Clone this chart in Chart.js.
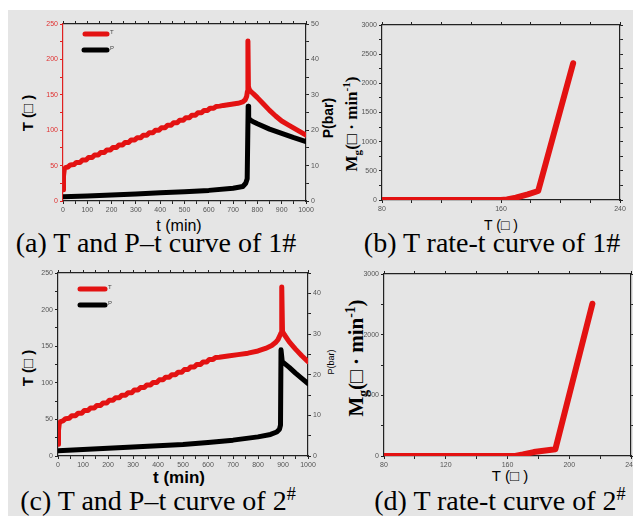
<!DOCTYPE html>
<html><head><meta charset="utf-8">
<script src="https://cdn.jsdelivr.net/npm/chart.js@4.4.0/dist/chart.umd.min.js"></script>
<style>
html,body{margin:0;padding:0;background:#fff;overflow:hidden;width:633px;height:516px;position:relative;}
#bg{position:absolute;left:8px;top:10px;width:625px;height:506px;background:#e5e5e5;}
canvas{position:absolute;}
.t{position:absolute;white-space:nowrap;color:#000;line-height:1;}
.cap{font-family:"Liberation Serif","Times New Roman",serif;font-size:28px;transform:translate(-50%,-50%);}
.ax{font-family:"Liberation Sans",Arial,sans-serif;}
.ser{font-family:"Liberation Serif","Times New Roman",serif;font-weight:bold;}
.rot{transform:translate(-50%,-50%) rotate(-90deg);}
.ctr{transform:translate(-50%,-50%);}
sup,sub{line-height:0;font-size:65%;}
</style></head><body>
<div id="bg"></div>

<div class="t ax rot" style="left:27px;top:113px;font-size:15px;font-weight:bold">T (□ )</div>
<div class="t ax ctr" style="left:179px;top:226px;font-size:16px">t (min)</div>
<div class="t ax rot" style="left:328px;top:118px;font-size:14px;font-weight:bold">P(bar)</div>
<div class="t cap" style="left:156px;top:243px">(a) T and P–t curve of 1#</div>

<div class="t ser rot" style="left:351px;top:124px;font-size:17px">M<sub>g</sub>(□ · min<sup>-1</sup>)</div>
<div class="t ax ctr" style="left:501px;top:225px;font-size:14px">T (□ )</div>
<div class="t cap" style="left:492px;top:243px">(b) T rate-t curve of 1#</div>

<div class="t ax rot" style="left:27px;top:368px;font-size:15px;font-weight:bold">T (□ )</div>
<div class="t ax ctr" style="left:179px;top:477px;font-size:17px;font-weight:bold">t (min)</div>
<div class="t ax rot" style="left:331px;top:362px;font-size:9px">P(bar)</div>
<div class="t cap" style="left:158px;top:501px">(c) T and P–t curve of 2<sup>#</sup></div>

<div class="t ser rot" style="left:356px;top:358px;font-size:21px">M<sub>g</sub>(□ · min<sup>-1</sup>)</div>
<div class="t ax ctr" style="left:510px;top:475px;font-size:15px">T (□ )</div>
<div class="t cap" style="left:500px;top:501px">(d) T rate-t curve of 2<sup>#</sup></div>

<canvas id="ca" width="303" height="205" style="left:28px;top:16px"></canvas>
<canvas id="cb" width="283" height="203" style="left:347px;top:17px"></canvas>
<canvas id="cc" width="310" height="211" style="left:23px;top:265px"></canvas>
<canvas id="cd" width="292" height="210" style="left:349px;top:266px"></canvas>

<script>
// ---------- (a) sample 1#: T and P vs t ----------
const a_T_time = [0,2,5,10,20,30,45,55,70,80,95,105,120,130,145,155,170,180,195,205,220,230,245,255,270,280,295,305,320,330,345,355,370,380,395,405,420,430,445,455,470,480,495,505,520,530,545,555,570,580,595,605,620,630,645,660,680,700,720,740,750,756,759,761,763,766,772,785,800,825,850,875,900,925,950,975,1000];
const a_T_vals = [16,35,44,47,48,51,51.5,54.5,54.5,58,58,61.5,61.5,65,65,68.5,68.5,72,72,75.5,75.5,79,79,82.5,82.5,86,86,89.5,89.5,93,93,96.5,96.5,100,100,103.5,103.5,107,107,110.5,110.5,114,114,117.5,117.5,121,121,124.5,124.5,128,128,131,131,133.5,134,135,136,137,138,140,143,148,155,226,162,158,155,151,146,137,128,120,113,108,103,98,93];
const a_P_time = [0,100,200,300,400,500,600,700,740,752,758,762,764,770,785,800,850,900,950,1000];
const a_P_vals = [1.2,1.4,1.7,2.0,2.3,2.6,3.0,3.6,4.1,5.0,6.3,26.8,23.5,22.9,22.3,21.8,20.3,19.1,17.9,16.8];

// ---------- (b) sample 1#: Mg vs T ----------
const b_T = [80,100,120,140,160,164,170,178,185,208.5];
const b_M = [0,0,0,0,0,10,40,97,154,2345];

// ---------- (c) sample 2#: T and P vs t ----------
const c_T_time = [0,2,5,10,20,30,45,55,70,80,95,105,120,130,145,155,170,180,195,205,220,230,245,255,270,280,295,305,320,330,345,355,370,380,395,405,420,430,445,455,470,480,495,505,520,530,545,555,570,580,595,605,620,630,645,680,720,760,800,830,855,870,880,888,892,895,898,905,925,950,975,1000];
const c_T_vals = [16,35,44,47,48,51,51.5,55,55,58.5,58.5,62,62,65.5,65.5,69,69,72.5,72.5,76,76,79.5,79.5,83,83,86.5,86.5,90,90,93.5,93.5,97,97,100.5,100.5,104,104,107.5,107.5,111,111,114.5,114.5,118,118,121.5,121.5,125,125,128.5,128.5,132,132,134.5,135,136.5,138.5,140.5,143.5,147,151,155,159,165,168,231,170,166,156,146,137,129];
const c_P_time = [0,100,200,300,400,500,600,700,800,850,875,886,890,892,897,925,950,975,1000];
const c_P_vals = [1.3,1.6,1.9,2.2,2.5,2.8,3.3,3.9,4.7,5.3,5.9,6.6,7.6,26.1,23.2,21.8,20.4,19.1,17.8];

// ---------- (d) sample 2#: Mg vs T ----------
const d_T = [80,100,120,140,160,165,170,177,191,215];
const d_M = [0,0,0,0,0,0,25,65,110,2510];

const RED = '#e31212', BLACK = '#000000';
const pts = (xs, ys) => xs.map((x, i) => ({x, y: ys[i]}));

function axis(o) {
  const vertical = (o.pos === 'left' || o.pos === 'right');
  return {
    type: 'linear', position: o.pos, min: o.min, max: o.max,
    afterFit: s => { if (vertical) s.width = o.size; else s.height = o.size; },
    grid: {drawOnChartArea: false, drawTicks: true, tickLength: 3, color: o.color || '#222', tickColor: o.color || '#222', tickWidth: 1},
    border: {display: true, color: o.color || '#222', width: 1.2},
    ticks: {
      display: !!o.labels, stepSize: o.step, autoSkip: false, maxRotation: 0, padding: 2,
      color: o.labelColor || '#555', font: {size: 7, family: 'Arial'},
      callback: v => (Math.abs(v / o.every - Math.round(v / o.every)) < 1e-6 ? v : '')
    }
  };
}

const inLegend = {
  id: 'inLegend',
  afterDatasetsDraw(chart, args, opts) {
    if (!opts || !opts.items) return;
    const {ctx, chartArea: a} = chart;
    chart.data.datasets.forEach((ds, i) => {
      const it = opts.items[i];
      if (!it) return;
      ctx.save();
      ctx.strokeStyle = ds.borderColor; ctx.lineWidth = ds.borderWidth; ctx.lineCap = 'round';
      ctx.beginPath(); ctx.moveTo(a.left + it.x0, a.top + it.y); ctx.lineTo(a.left + it.x1, a.top + it.y); ctx.stroke();
      ctx.fillStyle = '#444'; ctx.font = '6px Arial'; ctx.textBaseline = 'middle';
      ctx.fillText(ds.label, a.left + it.x1 + 3, a.top + it.y - 2);
      ctx.restore();
    });
  }
};

function lineDs(label, data, color, yAxisID, width) {
  return {label, data, borderColor: color, backgroundColor: color, borderWidth: width || 5, pointRadius: 0,
    tension: 0, fill: false, borderJoinStyle: 'round', borderCapStyle: 'round', yAxisID: yAxisID || 'y'};
}

const common = {
  responsive: false, animation: false, events: [],
  layout: {padding: 0},
  plugins: {legend: {display: false}, tooltip: {enabled: false}, title: {display: false}}
};

// (a)
new Chart(document.getElementById('ca'), {
  type: 'line',
  data: {datasets: [lineDs('T', pts(a_T_time, a_T_vals), RED, 'y'), lineDs('P', pts(a_P_time, a_P_vals), BLACK, 'y2')]},
  options: Object.assign({}, common, {
    plugins: Object.assign({}, common.plugins, {inLegend: {items: [{x0: 22, x1: 44, y: 10}, {x0: 21, x1: 44, y: 26}]}}),
    scales: {
      x: axis({pos: 'bottom', min: 0, max: 1000, step: 50, every: 100, labels: true, size: 20}),
      x2: axis({pos: 'top', min: 0, max: 1000, step: 50, every: 100, labels: false, size: 8}),
      y: axis({pos: 'left', min: 0, max: 250, step: 25, every: 50, labels: true, size: 35, color: '#e02020', labelColor: '#e03030'}),
      y2: axis({pos: 'right', min: 0, max: 50, step: 5, every: 10, labels: true, size: 25})
    }
  }),
  plugins: [inLegend]
});

// (b)
new Chart(document.getElementById('cb'), {
  type: 'line',
  data: {datasets: [lineDs('Mg', pts(b_T, b_M), RED, 'y', 6)]},
  options: Object.assign({}, common, {
    scales: {
      x: axis({pos: 'bottom', min: 80, max: 240, step: 20, every: 80, labels: true, size: 20}),
      x2: axis({pos: 'top', min: 80, max: 240, step: 20, every: 80, labels: false, size: 8}),
      y: axis({pos: 'left', min: 0, max: 3000, step: 250, every: 500, labels: true, size: 35}),
      y2: axis({pos: 'right', min: 0, max: 3000, step: 250, every: 500, labels: false, size: 10})
    }
  })
});

// (c)
new Chart(document.getElementById('cc'), {
  type: 'line',
  data: {datasets: [lineDs('T', pts(c_T_time, c_T_vals), RED, 'y'), lineDs('P', pts(c_P_time, c_P_vals), BLACK, 'y2')]},
  options: Object.assign({}, common, {
    plugins: Object.assign({}, common.plugins, {inLegend: {items: [{x0: 22, x1: 47, y: 16}, {x0: 22, x1: 47, y: 32}]}}),
    scales: {
      x: axis({pos: 'bottom', min: 0, max: 1000, step: 50, every: 100, labels: true, size: 20}),
      x2: axis({pos: 'top', min: 0, max: 1000, step: 50, every: 100, labels: false, size: 8}),
      y: axis({pos: 'left', min: 0, max: 250, step: 25, every: 50, labels: true, size: 35}),
      y2: axis({pos: 'right', min: 0, max: 45, step: 5, every: 10, labels: true, size: 25})
    }
  }),
  plugins: [inLegend]
});

// (d)
new Chart(document.getElementById('cd'), {
  type: 'line',
  data: {datasets: [lineDs('Mg', pts(d_T, d_M), RED, 'y', 6)]},
  options: Object.assign({}, common, {
    scales: {
      x: axis({pos: 'bottom', min: 80, max: 240, step: 20, every: 40, labels: true, size: 20}),
      x2: axis({pos: 'top', min: 80, max: 240, step: 20, every: 40, labels: false, size: 8}),
      y: axis({pos: 'left', min: 0, max: 3000, step: 500, every: 1000, labels: true, size: 35}),
      y2: axis({pos: 'right', min: 0, max: 3000, step: 500, every: 1000, labels: false, size: 10})
    }
  })
});
</script>
</body></html>
